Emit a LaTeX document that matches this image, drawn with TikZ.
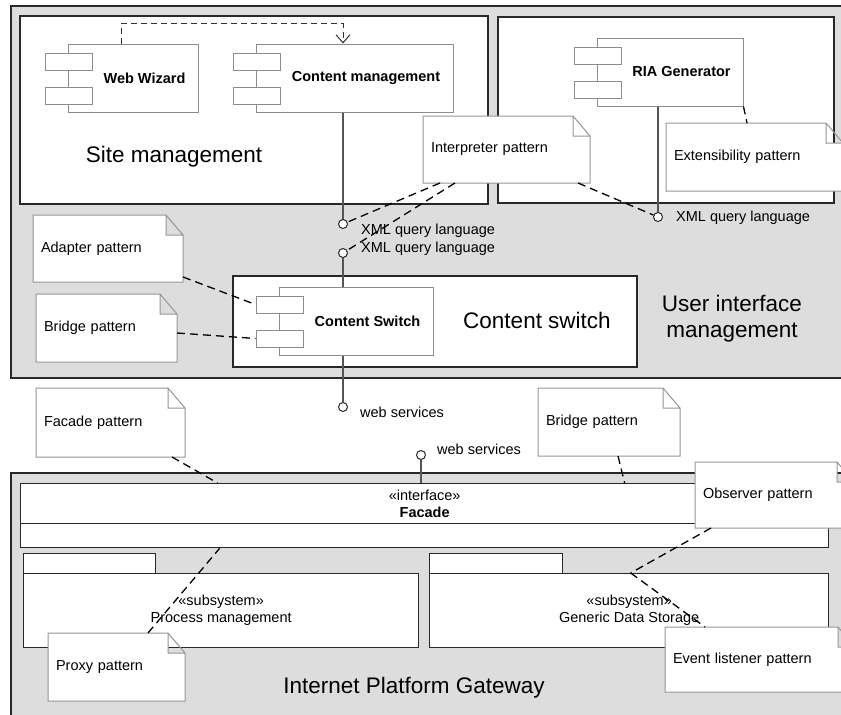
\documentclass[tikz,border=0pt]{standalone}
\usepackage{fontspec}
\setmainfont{Liberation Sans}
\usetikzlibrary{arrows.meta}
\makeatletter
\newdimen\unxa \newdimen\unya \newdimen\unxb \newdimen\unyb \newdimen\unxc \newdimen\unyc
\pgfdeclareshape{umlnote}{%
  \inheritsavedanchors[from=rectangle]%
  \inheritanchorborder[from=rectangle]%
  \inheritanchor[from=rectangle]{center}%
  \inheritanchor[from=rectangle]{north}%
  \inheritanchor[from=rectangle]{south}%
  \inheritanchor[from=rectangle]{east}%
  \inheritanchor[from=rectangle]{west}%
  \inheritanchor[from=rectangle]{north east}%
  \inheritanchor[from=rectangle]{north west}%
  \inheritanchor[from=rectangle]{south east}%
  \inheritanchor[from=rectangle]{south west}%
  \inheritanchor[from=rectangle]{mid}%
  \inheritanchor[from=rectangle]{base}%
  \backgroundpath{%
    \southwest \unxa=\pgf@x \unya=\pgf@y
    \northeast \unxb=\pgf@x \unyb=\pgf@y
    \unxc=\unxb \advance\unxc by -17pt
    \unyc=\unyb \advance\unyc by -20pt
    \pgfpathmoveto{\pgfqpoint{\unxa}{\unya}}%
    \pgfpathlineto{\pgfqpoint{\unxa}{\unyb}}%
    \pgfpathlineto{\pgfqpoint{\unxc}{\unyb}}%
    \pgfpathlineto{\pgfqpoint{\unxb}{\unyc}}%
    \pgfpathlineto{\pgfqpoint{\unxb}{\unya}}%
    \pgfpathclose
    \pgfpathmoveto{\pgfqpoint{\unxc}{\unyb}}%
    \pgfpathlineto{\pgfqpoint{\unxc}{\unyc}}%
    \pgfpathlineto{\pgfqpoint{\unxb}{\unyc}}%
  }%
}
\makeatother
\definecolor{panel}{RGB}{221,221,221}
\definecolor{frameline}{RGB}{40,40,40}
\definecolor{compline}{RGB}{140,140,140}
\definecolor{noteline}{RGB}{150,150,150}
\definecolor{stemline}{RGB}{85,85,85}
\tikzset{
  every node/.style={font=\fontsize{14.5}{17}\selectfont},
  panelframe/.style={rectangle, draw=frameline, line width=1.6pt, fill=panel, anchor=north west, inner sep=0pt},
  subframe/.style={rectangle, draw=frameline, line width=1.6pt, fill=white, anchor=north west, inner sep=0pt},
  comp/.style={rectangle, draw=compline, line width=1pt, fill=white, minimum height=68pt, inner sep=0pt, font=\fontsize{14.5}{17}\selectfont\bfseries},
  port/.style={rectangle, draw=compline, line width=1pt, fill=white, anchor=north west, minimum width=47pt, minimum height=17pt, inner sep=0pt},
  note/.style={shape=umlnote, draw=noteline, line width=1pt, fill=white, anchor=north west, inner xsep=8pt, inner ysep=0pt, align=left, outer sep=0pt},
  ball/.style={circle, draw=frameline, fill=white, line width=1pt, minimum size=9pt, inner sep=0pt},
  stem/.style={draw=stemline, line width=1.3pt},
  trace/.style={draw=black, line width=1.3pt, dash pattern=on 8pt off 5pt},
  dep/.style={draw=black!80, line width=1pt, dash pattern=on 6pt off 4pt, -{Straight Barb[length=8pt,width=14pt]}},
  iflabel/.style={anchor=base west, inner sep=0pt},
  biglabel/.style={font=\fontsize{22.5}{26}\selectfont, inner sep=0pt},
  classbox/.style={rectangle, draw=frameline, line width=1.3pt, fill=white, anchor=north west, inner sep=0pt, align=center},
}
\begin{document}
\begin{tikzpicture}[x=1pt, y=-1pt]
\clip (0,0) rectangle (841,715);
% frames
\node[panelframe, minimum width=850pt, minimum height=372pt] (uiframe) at (10,5) {};
\node[panelframe, minimum width=850pt, minimum height=260pt] (gwframe) at (10,472) {};
\node[subframe, minimum width=468pt, minimum height=188pt] (site) at (19,15) {};
\node[subframe, minimum width=336pt, minimum height=186pt] (riabox) at (497,16) {};
\node[subframe, minimum width=404pt, minimum height=91pt] (csframe) at (232,275) {};
% frame labels
\node[biglabel, anchor=base] (sitelbl) at (174,162) {Site management};
\node[biglabel, anchor=base] (cslbl) at (537,328) {Content switch};
\node[biglabel, align=center] (uilbl) at (732,319) {User interface\\management};
\node[biglabel, anchor=base] (gwlbl) at (414,693) {Internet Platform Gateway};
% components
\node[comp, minimum width=130pt] (ww) at (133,78) {\hspace*{23pt}Web Wizard};
\node[port] (wwp1) at ([shift={(-23,9)}]ww.north west) {};
\node[port] (wwp2) at ([shift={(-23,43)}]ww.north west) {};
\node[comp, minimum width=197pt] (cm) at (354.5,78) {\hspace*{23pt}Content management};
\node[port] (cmp1) at ([shift={(-23,9)}]cm.north west) {};
\node[port] (cmp2) at ([shift={(-23,43)}]cm.north west) {};
\node[comp, minimum width=146pt] (ria) at (670,72) {\hspace*{23pt}RIA Generator};
\node[port] (riap1) at ([shift={(-23,9)}]ria.north west) {};
\node[port] (riap2) at ([shift={(-23,43)}]ria.north west) {};
\node[comp, minimum width=154pt] (cs) at (356,321) {\hspace*{23pt}Content Switch};
\node[port] (csp1) at ([shift={(-23,9)}]cs.north west) {};
\node[port] (csp2) at ([shift={(-23,43)}]cs.north west) {};
% facade and subsystems
\node[classbox, minimum width=808pt, minimum height=40pt] (facade) at (20,483) {«interface»\\\textbf{Facade}};
\node[classbox, minimum width=808pt, minimum height=24pt] (facadeops) at (20,523) {};
\node[classbox, minimum width=132pt, minimum height=20pt] (pmtab) at (23,553) {};
\node[classbox, minimum width=395pt, minimum height=74pt] (pm) at (23,573) {«subsystem»\\Process management};
\node[classbox, minimum width=133pt, minimum height=20pt] (gdstab) at (429,553) {};
\node[classbox, minimum width=399pt, minimum height=74pt] (gds) at (429,573) {«subsystem»\\Generic Data Storage};
% dependency
\draw[dep] ([xshift=-12pt]ww.north) -- ++(0,-20) -| ([xshift=-11.5pt]cm.north);
% provided interfaces
\node[ball] (l1) at (343,224) {};
\node[ball] (l2) at (343,253) {};
\node[ball] (l3) at (658,217) {};
\node[ball] (l4) at (343,407) {};
\node[ball] (l5) at (421,455) {};
\draw[stem] (cm.south -| l1) -- (l1);
\draw[stem] (l2) -- (l2 |- cs.north);
\draw[stem] (ria.south -| l3) -- (l3);
\draw[stem] (cs.south -| l4) -- (l4);
\draw[stem] (l5) -- (l5 |- facade.north);
\node[iflabel] (x1) at (361,234) {XML query language};
\node[iflabel] (x2) at (361,252) {XML query language};
\node[iflabel] (x3) at (676,221) {XML query language};
\node[iflabel] (w1) at (360,417) {web services};
\node[iflabel] (w2) at (437,454) {web services};
% notes
\node[note, minimum width=167pt, minimum height=67pt, text width=151pt] (interp) at (423,116) {Interpreter pattern};
\node[note, minimum width=177pt, minimum height=68pt, text width=161pt] (ext) at (666,123) {Extensibility pattern};
\node[note, minimum width=150pt, minimum height=67pt, text width=134pt] (adapter) at (33,215) {Adapter pattern};
\node[note, minimum width=141pt, minimum height=68pt, text width=125pt] (bridgeA) at (36,294) {Bridge pattern};
\node[note, minimum width=149pt, minimum height=69pt, text width=133pt] (facnote) at (36,388) {Facade pattern};
\node[note, minimum width=142pt, minimum height=68pt, text width=126pt] (bridgeB) at (538,388) {Bridge pattern};
\node[note, minimum width=159pt, minimum height=66pt, text width=143pt] (observer) at (695,462) {Observer pattern};
\node[note, minimum width=137pt, minimum height=68pt, text width=121pt] (proxy) at (48,633) {Proxy pattern};
\node[note, minimum width=190pt, minimum height=65pt, text width=174pt] (event) at (665,627) {Event listener pattern};
% note attachments
\draw[trace] ([xshift=17pt]interp.south west) -- (l1);
\draw[trace] ([xshift=32pt]interp.south west) -- (l2);
\draw[trace] ([xshift=-12pt]interp.south east) -- (l3);
\draw[trace] (ria.south east) -- ([xshift=81pt]ext.north west);
\draw[trace] ([yshift=5pt]adapter.south east) -- (csp1.west);
\draw[trace] ([yshift=29pt]bridgeA.south east) -- (csp2.west);
\draw[trace] ([xshift=-13pt]facnote.south east) -- ([xshift=-207pt]facade.north);
\draw[trace] ([xshift=80pt]bridgeB.south west) -- ([xshift=200pt]facade.north);
\draw[trace] ([xshift=100pt]proxy.north west) -- ([xshift=-205pt]facadeops.south);
\draw[trace] ([xshift=16pt]observer.south west) -- ([xshift=1.5pt]gds.north);
\draw[trace] ([xshift=1.5pt]gds.north) -- ([xshift=40pt]event.north west);
\end{tikzpicture}
\end{document}
